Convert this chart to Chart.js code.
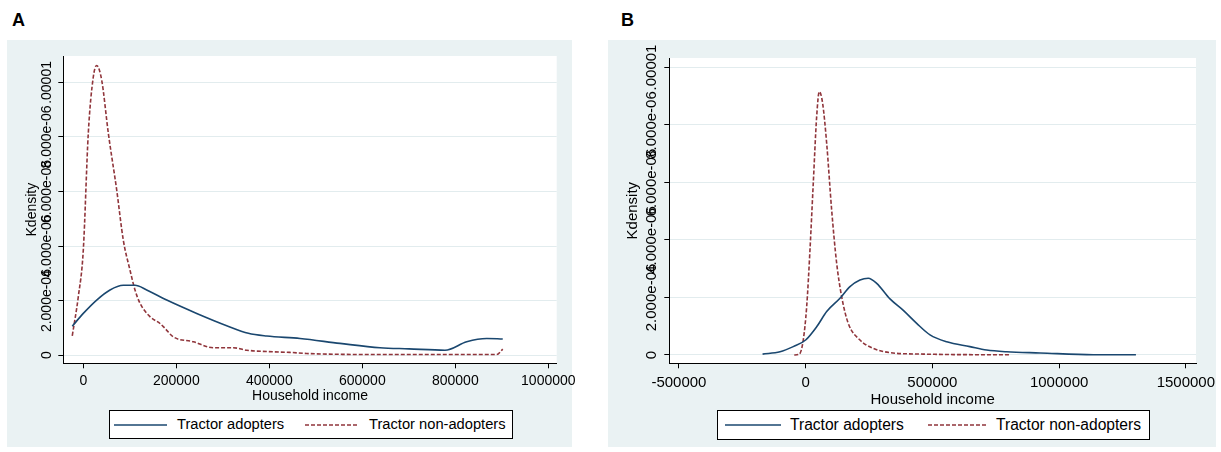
<!DOCTYPE html>
<html>
<head>
<meta charset="utf-8">
<script src="https://cdn.jsdelivr.net/npm/chart.js@4.4.1/dist/chart.umd.min.js"></script>
<style>
  body { margin: 0; width: 1221px; height: 452px; background: #fff; position: relative; overflow: hidden;
         font-family: "Liberation Sans", Arial, sans-serif; color: #000; }
  .tag { position: absolute; font-weight: bold; font-size: 18px; line-height: 18px; }
  canvas { position: absolute; }
  .legend { position: absolute; background: #fff; border: 1px solid #000; box-sizing: border-box; }
  .legend svg, .legend span { position: absolute; }
  .legend span { top: 0; white-space: nowrap; }
</style>
</head>
<body>
<div class="tag" style="left:12px;top:11px">A</div>
<div class="tag" style="left:621px;top:11px">B</div>

<canvas id="panelA" width="600" height="407" style="left:7px;top:40px"></canvas>
<canvas id="panelB" width="613" height="407" style="left:608px;top:40px"></canvas>

<div class="legend" style="left:109px;top:410px;width:404px;height:29px;font-size:14.7px">
  <svg style="left:4px;top:12px" width="53" height="4"><line x1="0" y1="2" x2="53" y2="2" stroke="#1a476f" stroke-width="1.6"/></svg>
  <span style="left:67px;line-height:27px">Tractor adopters</span>
  <svg style="left:195px;top:12px" width="54" height="4"><line x1="0" y1="2" x2="54" y2="2" stroke="#90353b" stroke-width="1.6" stroke-dasharray="4 2"/></svg>
  <span style="left:259px;line-height:27px">Tractor non-adopters</span>
</div>

<div class="legend" style="left:717px;top:410px;width:433px;height:30px;font-size:15.6px">
  <svg style="left:7px;top:12px" width="56" height="4"><line x1="0" y1="2" x2="56" y2="2" stroke="#1a476f" stroke-width="1.6"/></svg>
  <span style="left:72px;line-height:28px">Tractor adopters</span>
  <svg style="left:210px;top:12px" width="58" height="4"><line x1="0" y1="2" x2="58" y2="2" stroke="#90353b" stroke-width="1.6" stroke-dasharray="4 2"/></svg>
  <span style="left:278px;line-height:28px">Tractor non-adopters</span>
</div>

<script>
// A: household income distribution
const aAdoptIncome = [-23700, 0, 28800, 57400, 86000, 111200, 136300, 179400, 243900, 308400, 354900,
  394400, 466000, 552000, 638000, 700000, 777800, 824500, 867500, 902000];
const aAdoptDensity = [1.06e-6, 1.53e-6, 2.02e-6, 2.39e-6, 2.56e-6, 2.56e-6, 2.39e-6, 2.02e-6, 1.53e-6, 1.08e-6, 0.80e-6,
  0.70e-6, 0.61e-6, 0.43e-6, 0.27e-6, 0.23e-6, 0.18e-6, 0.49e-6, 0.61e-6, 0.59e-6];
const aNonIncome = [-23700, -10750, 0, 10750, 21500, 28800, 39500, 53800, 71800, 86000, 100400, 111200,
  122000, 143400, 165000, 175700, 193500, 236600, 279500, 322600, 351400, 408600, 444500, 480000, 552000,
  650000, 800000, 889000, 902000];
const aNonDensity = [0.71e-6, 2.14e-6, 3.85e-6, 8.14e-6, 10.2e-6, 10.62e-6, 10.09e-6, 8.14e-6, 6.06e-6, 4.22e-6, 3.12e-6, 2.39e-6,
  1.90e-6, 1.41e-6, 1.16e-6, 0.98e-6, 0.67e-6, 0.49e-6, 0.27e-6, 0.27e-6, 0.18e-6, 0.12e-6, 0.10e-6, 0.06e-6, 0.03e-6,
  0.02e-6, 0.02e-6, 0.02e-6, 0.22e-6];

// B
const bAdoptIncome = [-170000, -101000, -49000, 0, 43400, 82900, 135400, 174800, 214300, 247000, 280200,
  332700, 385300, 438000, 490600, 556500, 647800, 714000, 793000, 925000, 1135000, 1303000];
const bAdoptDensity = [0.03e-6, 0.11e-6, 0.29e-6, 0.52e-6, 0.98e-6, 1.51e-6, 1.97e-6, 2.38e-6, 2.61e-6, 2.67e-6, 2.49e-6,
  1.95e-6, 1.55e-6, 1.10e-6, 0.70e-6, 0.46e-6, 0.29e-6, 0.17e-6, 0.11e-6, 0.07e-6, 0.01e-6, 0.01e-6];
const bNonIncome = [-45000, -25000, -9500, 4000, 17000, 30000, 43400, 53700, 67000, 82900, 102600, 122300,
  142000, 168000, 214300, 266800, 332700, 464000, 661000, 806000];
const bNonDensity = [0, 0.03e-6, 0.52e-6, 1.68e-6, 3.65e-6, 5.97e-6, 8.29e-6, 9.16e-6, 8.75e-6, 7.36e-6, 5.04e-6, 3.19e-6,
  2.03e-6, 1.10e-6, 0.52e-6, 0.23e-6, 0.08e-6, 0.03e-6, 0.01e-6, 0.01e-6];

// axis ticks
const aIncomeTicks = [0, 200000, 400000, 600000, 800000, 1000000];
const bIncomeTicks = [-500000, 0, 500000, 1000000, 1500000];
const densityTicks = [0, 2e-6, 4e-6, 6e-6, 8e-6, 1e-5];
const densityTickLabels = ['0', '2.000e-06', '4.000e-06', '6.000e-06', '8.000e-06', '.00001'];

const NAVY = '#1a476f';
const MAROON = '#90353b';
const PANEL_BG = '#eaf2f3';
const GRID = '#e2ecee';
const FONT = "'Liberation Sans', Arial, sans-serif";

Chart.defaults.font.family = FONT;
Chart.defaults.color = '#000';

function pairs(xs, ys) {
  return xs.map((x, i) => ({ x: x, y: ys[i] }));
}

function drawPanel(id, p) {
  // grey outer region + white plot region
  const panelFill = {
    id: 'panelFill',
    beforeDraw(chart) {
      const ctx = chart.ctx, a = chart.chartArea;
      ctx.save();
      ctx.fillStyle = PANEL_BG;
      ctx.fillRect(0, 0, p.bgWidth, chart.height);
      ctx.fillStyle = '#fff';
      ctx.fillRect(a.left, a.top, a.right - a.left, a.bottom - a.top);
      ctx.restore();
    }
  };
  // vertical y tick labels, centred on their ticks
  const yTickText = {
    id: 'yTickText',
    afterDraw(chart) {
      const ctx = chart.ctx, y = chart.scales.y;
      ctx.save();
      ctx.font = p.font + 'px ' + FONT;
      ctx.fillStyle = '#000';
      ctx.textAlign = 'center';
      ctx.textBaseline = 'middle';
      densityTicks.forEach((v, i) => {
        ctx.save();
        ctx.translate(p.yLabelX, y.getPixelForValue(v));
        ctx.rotate(-Math.PI / 2);
        ctx.fillText(densityTickLabels[i], 0, 0);
        ctx.restore();
      });
      ctx.restore();
    }
  };

  new Chart(document.getElementById(id), {
    type: 'scatter',
    data: {
      datasets: [
        { label: 'Tractor adopters', data: pairs(p.adoptX, p.adoptY), showLine: true,
          borderColor: NAVY, borderWidth: 1.6, pointRadius: 0, cubicInterpolationMode: 'monotone' },
        { label: 'Tractor non-adopters', data: pairs(p.nonX, p.nonY), showLine: true,
          borderColor: MAROON, borderWidth: 1.6, borderDash: [4, 2], pointRadius: 0, cubicInterpolationMode: 'monotone' }
      ]
    },
    options: {
      responsive: false,
      animation: false,
      layout: { padding: { left: 0, right: p.padRight, top: p.padTop, bottom: p.padBottom } },
      plugins: { legend: { display: false }, tooltip: { enabled: false } },
      scales: {
        x: {
          type: 'linear', min: p.xMin, max: p.xMax,
          afterBuildTicks: s => { s.ticks = p.xTicks.map(v => ({ value: v })); },
          afterFit: s => { s.height = p.xAxisHeight; s.paddingLeft = 0; s.paddingRight = 0; },
          grid: { drawOnChartArea: false, drawTicks: true, tickLength: 5, tickColor: '#000' },
          border: { color: '#000', width: 1 },
          ticks: { padding: p.xTickPad, autoSkip: false, maxRotation: 0, minRotation: 0,
                   font: { size: p.font, lineHeight: 1 }, callback: v => String(v) },
          title: { display: true, text: 'Household income', padding: 0, font: { size: p.font, lineHeight: 1 } }
        },
        y: {
          type: 'linear', min: p.yMin, max: p.yMax,
          afterBuildTicks: s => { s.ticks = densityTicks.map(v => ({ value: v })); },
          afterFit: s => { s.width = p.yAxisWidth; s.paddingTop = 0; s.paddingBottom = 0; },
          grid: { color: GRID, lineWidth: 1, drawTicks: true, tickLength: 5, tickColor: '#000' },
          border: { color: '#000', width: 1 },
          ticks: { display: false },
          title: { display: true, text: 'Kdensity', padding: { top: p.yTitlePad, bottom: 0 },
                   font: { size: p.font, lineHeight: 1 } }
        }
      }
    },
    plugins: [panelFill, yTickText]
  });
}

drawPanel('panelA', {
  adoptX: aAdoptIncome, adoptY: aAdoptDensity, nonX: aNonIncome, nonY: aNonDensity,
  xTicks: aIncomeTicks, xMin: -43000, xMax: 1018000, yMin: -0.3e-6, yMax: 10.97e-6,
  bgWidth: 565, font: 14, padTop: 16, padRight: 50.3, padBottom: 43.4,
  xAxisHeight: 40.3, yAxisWidth: 56.3, xTickPad: 5.7, yLabelX: 39.7, yTitlePad: 17.7
});

drawPanel('panelB', {
  adoptX: bAdoptIncome, adoptY: bAdoptDensity, nonX: bNonIncome, nonY: bNonDensity,
  xTicks: bIncomeTicks, xMin: -538000, xMax: 1540000, yMin: -0.29e-6, yMax: 10.33e-6,
  bgWidth: 608, font: 15, padTop: 18, padRight: 25, padBottom: 39.9,
  xAxisHeight: 43.8, yAxisWidth: 61.3, xTickPad: 6.7, yLabelX: 44.3, yTitlePad: 17.8
});
</script>
</body>
</html>
